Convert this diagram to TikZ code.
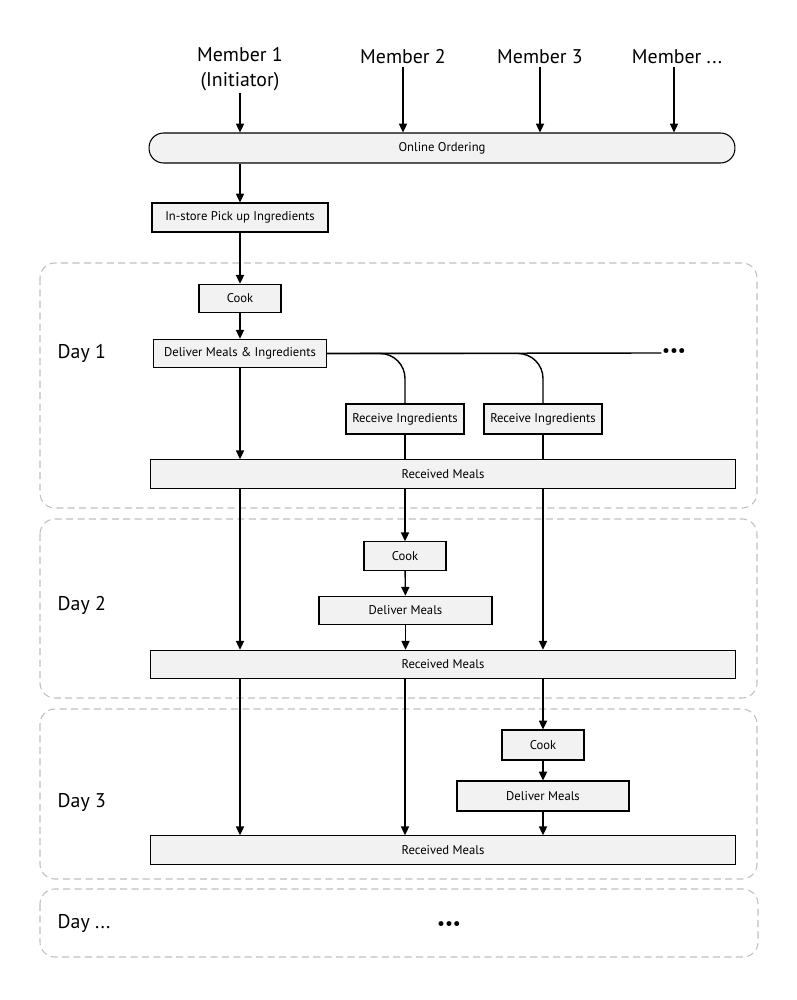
\documentclass[tikz,border=0pt]{standalone}
\usepackage{fontspec}
\setmainfont{PT Sans}
\usepackage{tikz}
\usetikzlibrary{arrows.meta, positioning, backgrounds}
\tikzset{>={Triangle[length=5pt,width=4.6pt]}}
\tikzset{
  box/.style={draw, fill=gray!10, line width=0.6pt, inner sep=0pt,
    minimum height=0.57cm, font=\fontsize{7.2}{8}\selectfont},
  member/.style={align=center, inner sep=1pt, font=\fontsize{11.3}{14}\selectfont},
  daylabel/.style={anchor=west, inner sep=0pt, font=\fontsize{11.3}{13}\selectfont},
  dayframe/.style={draw=gray!50, line width=0.6pt, dash pattern=on 4pt off 2.5pt, rounded corners=0.3cm},
  dots/.style={inner sep=0pt, font=\fontsize{10}{10}\selectfont},
  flow/.style={line width=0.8pt}
}

\begin{document}
\begin{tikzpicture}[x=0.02cm, y=-0.02cm, flow]
        \useasboundingbox (0,0) rectangle (797,1000);

        % members
        \node[member] (m1) at (240,69) {Member 1\\(Initiator)};
        \node[member] (m2) at (403,57) {Member 2};
        \node[member] (m3) at (540,57) {Member 3};
        \node[member] (m4) at (677,57) {Member ...};

        \node[box, rounded corners=0.29cm, minimum width=11.72cm, minimum height=0.6cm] (online) at (442,148) {Online Ordering};
        \node[box, minimum width=3.52cm, minimum height=0.58cm] (instore) at (240,217.5) {In-store Pick up Ingredients};

        % day 1
        \node[box, minimum width=1.64cm] (cook1) at (240,298.5) {Cook};
        \node[box, minimum width=3.46cm] (deliv1) at (240,353.5) {Deliver Meals \& Ingredients};
        \node[dots] (more) at (674,353) {•••};
        \node[box, minimum width=2.36cm, minimum height=0.6cm] (recv1) at (405,419) {Receive Ingredients};
        \node[box, minimum width=2.36cm, minimum height=0.6cm] (recv2) at (543,419) {Receive Ingredients};
        \node[box, minimum width=11.72cm] (rm1) at (443,474) {Received Meals};

        % day 2
        \node[box, minimum width=1.64cm] (cook2) at (405,556) {Cook};
        \node[box, minimum width=3.46cm] (deliv2) at (405.5,610.5) {Deliver Meals};
        \node[box, minimum width=11.72cm] (rm2) at (443,664.5) {Received Meals};

        % day 3
        \node[box, minimum width=1.64cm, minimum height=0.6cm] (cook3) at (543,745) {Cook};
        \node[box, minimum width=3.44cm, minimum height=0.6cm] (deliv3) at (543,796) {Deliver Meals};
        \node[box, minimum width=11.72cm] (rm3) at (443,850) {Received Meals};

        \node[dots] (moredays) at (449,926) {•••};

        \node[daylabel] (d1) at (57,353) {Day 1};
        \node[daylabel] (d2) at (57,605) {Day 2};
        \node[daylabel] (d3) at (57,802) {Day 3};
        \node[daylabel] (d4) at (57,923) {Day ...};

        \begin{scope}[on background layer]
        \draw[dayframe] (40,263) rectangle (757,508);
        \draw[dayframe] (40,519) rectangle (757,698);
        \draw[dayframe] (40,709) rectangle (757,879);
        \draw[dayframe] (40,889) rectangle (758,957);
        \draw[flow, ->] (recv2) -- (recv2 |- rm2.north);
        \end{scope}

        \draw[->] (m1) -- (m1 |- online.north);
        \draw[->] (m2) -- (m2 |- online.north);
        \draw[->] (m3) -- (m3 |- online.north);
        \draw[->] ([xshift=-0.06cm]m4.south) -- ([xshift=-0.06cm]m4 |- online.north);
        \draw[->] (online.south -| instore) -- (instore);
        \draw[->] (instore) -- (cook1);
        \draw[->] (cook1) -- (deliv1);

        \draw (deliv1.east) -- (more.west);
        \draw[rounded corners=0.5cm] (deliv1.east) -| (recv1.north);
        \draw[rounded corners=0.5cm] (deliv1.east) -| (recv2.north);
        \draw[->] (deliv1) -- (deliv1 |- rm1.north);
        \draw (recv1) -- (recv1 |- rm1.north);

        \draw[->] (recv1 |- rm1.south) -- (cook2);
        \draw[->] (cook2) -- (deliv2);
        \draw[->] (deliv2) -- (deliv2 |- rm2.north);
        \draw[->] (deliv1 |- rm1.south) -- (deliv1 |- rm2.north);

        \draw[->] (recv2 |- rm2.south) -- (cook3);
        \draw[->] (cook3) -- (deliv3);
        \draw[->] (deliv3) -- (deliv3 |- rm3.north);
        \draw[->] (deliv1 |- rm2.south) -- (deliv1 |- rm3.north);
        \draw[->] (recv1 |- rm2.south) -- (recv1 |- rm3.north);
\end{tikzpicture}
\end{document}
